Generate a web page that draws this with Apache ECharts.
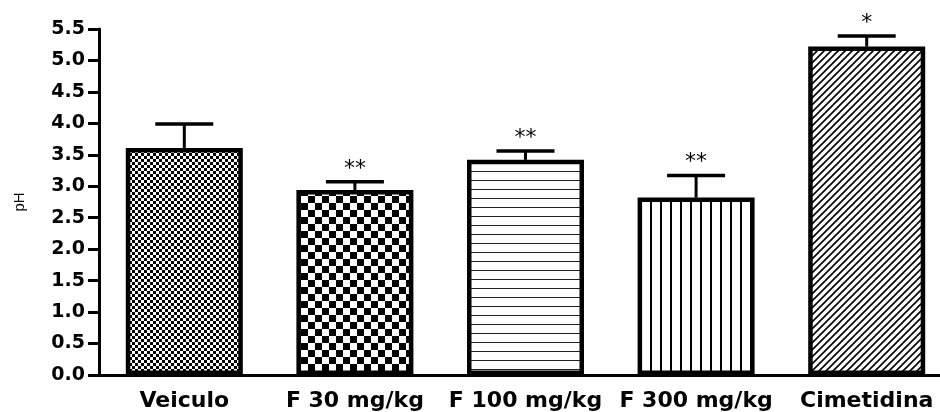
<!DOCTYPE html>
<html>
<head>
<meta charset="utf-8">
<script src="https://cdn.jsdelivr.net/npm/echarts@6/dist/echarts.min.js"></script>
<style>
html,body{margin:0;padding:0;background:#fff;}
#chart{width:940px;height:412px;}
</style>
</head>
<body>
<div id="chart"></div>
<script>
// ---- data ----
const categories = ['Veiculo', 'F 30 mg/kg', 'F 100 mg/kg', 'F 300 mg/kg', 'Cimetidina'];
const phMean = [3.61, 2.94, 3.42, 2.82, 5.22];
const phErrTop = [3.99, 3.07, 3.56, 3.17, 5.39];
const significance = ['', '**', '**', '**', '*'];
const yTicks = { min: 0, max: 5.5, interval: 0.5 };

// ---- fill patterns ----
function makeCanvas(w, h, draw) {
  const c = document.createElement('canvas');
  c.width = w; c.height = h;
  const ctx = c.getContext('2d');
  ctx.fillStyle = '#fff'; ctx.fillRect(0, 0, w, h);
  draw(ctx, w, h);
  return c;
}
const patterns = [
  makeCanvas(6, 6, (ctx) => { ctx.fillStyle = '#000'; ctx.fillRect(0, 0, 3, 3); ctx.fillRect(3, 3, 3, 3); }),
  makeCanvas(14, 14, (ctx) => { ctx.fillStyle = '#000'; ctx.fillRect(0, 0, 7, 7); ctx.fillRect(7, 7, 7, 7); }),
  makeCanvas(9, 9, (ctx) => { ctx.fillStyle = '#222'; ctx.fillRect(0, 0, 9, 1); }),
  makeCanvas(10, 10, (ctx) => { ctx.fillStyle = '#000'; ctx.fillRect(0, 0, 2, 10); }),
  makeCanvas(7, 7, (ctx) => {
    ctx.strokeStyle = '#000'; ctx.lineWidth = 1.6;
    ctx.beginPath();
    ctx.moveTo(-1, 8); ctx.lineTo(8, -1);
    ctx.moveTo(-2, 2); ctx.lineTo(2, -2);
    ctx.moveTo(5, 9); ctx.lineTo(9, 5);
    ctx.stroke();
  })
];

const barData = phMean.map((v, i) => ({
  value: v,
  itemStyle: { color: { image: patterns[i], repeat: 'repeat' }, borderColor: '#000', borderWidth: 4.5 }
}));
const errData = phMean.map((v, i) => [i, v, phErrTop[i], i]);

const chart = echarts.init(document.getElementById('chart'), null, { renderer: 'canvas' });
chart.setOption({
  animation: false,
  backgroundColor: '#fff',
  grid: { left: 99, top: 29, width: 853, height: 346, containLabel: false, outerBoundsMode: 'none' },
  xAxis: {
    type: 'category',
    data: categories,
    axisLine: { lineStyle: { color: '#000', width: 3 } },
    axisTick: { alignWithLabel: true, length: 10, lineStyle: { color: '#000', width: 3 } },
    axisLabel: { color: '#000', fontFamily: 'DejaVu Sans', fontWeight: 'bold', fontSize: 22, margin: 15, interval: 0 }
  },
  yAxis: {
    type: 'value',
    min: yTicks.min, max: yTicks.max, interval: yTicks.interval,
    name: 'pH', nameLocation: 'middle', nameRotate: 90, nameGap: 72,
    nameTextStyle: { color: '#000', fontFamily: 'Liberation Sans', fontSize: 15 },
    splitLine: { show: false },
    axisLine: { show: true, lineStyle: { color: '#000', width: 3 } },
    axisTick: { show: true, length: 11, lineStyle: { color: '#000', width: 3 } },
    axisLabel: { color: '#000', fontFamily: 'DejaVu Sans', fontWeight: 'bold', fontSize: 19, margin: 14,
      formatter: (v) => v.toFixed(1) }
  },
  series: [
    { type: 'bar', data: barData, barWidth: 117, z: 2 },
    {
      type: 'custom', z: 3, data: errData,
      renderItem: function (params, api) {
        const x = api.value(0), v = api.value(1), e = api.value(2), idx = api.value(3);
        const p0 = api.coord([x, v]);
        const p1 = api.coord([x, e]);
        const half = api.size([1, 0])[0] * 0.17;
        return {
          type: 'group',
          children: [
            { type: 'line', shape: { x1: p0[0], y1: p0[1], x2: p1[0], y2: p1[1] }, style: { stroke: '#000', lineWidth: 3 } },
            { type: 'line', shape: { x1: p1[0] - half, y1: p1[1], x2: p1[0] + half, y2: p1[1] }, style: { stroke: '#000', lineWidth: 3.5 } },
            { type: 'text', x: p1[0], y: p1[1] - 13,
              style: { text: significance[idx], font: '22px "DejaVu Sans"', fill: '#000', align: 'center', verticalAlign: 'middle' } }
          ]
        };
      }
    }
  ]
});
</script>
</body>
</html>
